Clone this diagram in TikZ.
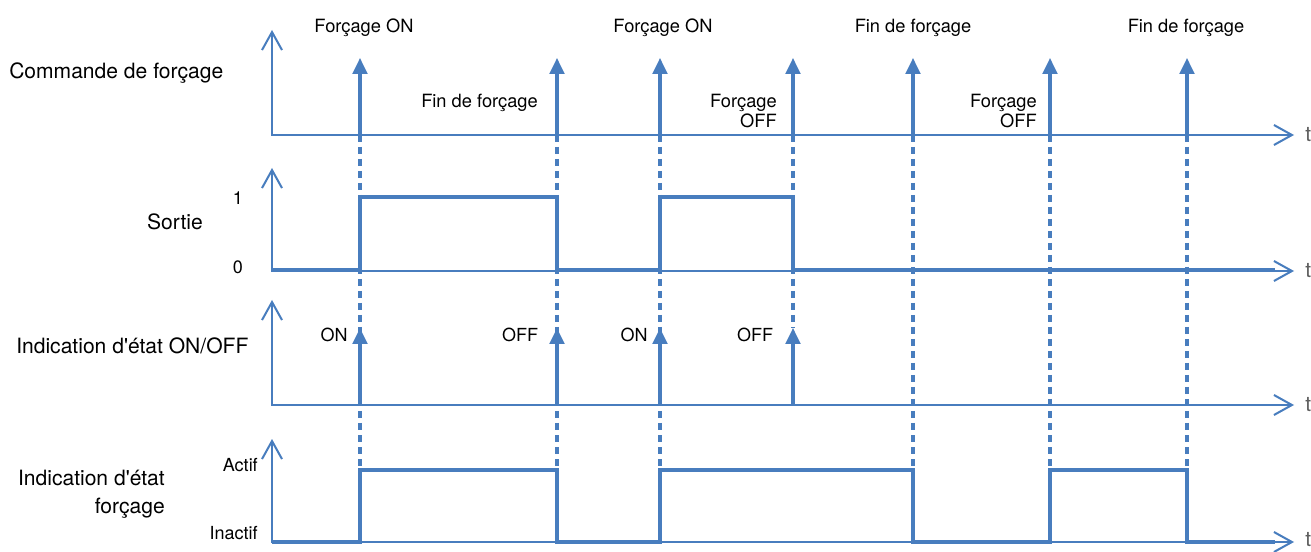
\documentclass[tikz,border=0pt]{standalone}
\usepackage{fontspec}
\setmainfont{TeX Gyre Heros}
\newfontfamily\rawhv{TeX Gyre Heros}
\usetikzlibrary{arrows.meta}
\definecolor{sigblue}{RGB}{72,125,190}
\definecolor{tgray}{RGB}{95,95,95}
\newcommand{\apos}{{\rawhv '}}
\begin{document}
\begin{tikzpicture}[x=0.75pt,y=-0.75pt,
  axis/.style={sigblue, line width=1.5pt, line join=miter,
    {Straight Barb[length=13.5pt,width=15pt,line width=1.5pt]}-{Straight Barb[length=13.5pt,width=15pt,line width=1.5pt]}},
  signal/.style={sigblue, line width=2.5pt, line join=miter},
  pulse/.style={sigblue, line width=2.3pt, -{Triangle[length=12pt,width=11pt]}},
  guide/.style={sigblue, line width=2.6pt, dash pattern=on 5.5pt off 3.5pt},
  lbl/.style={font=\fontsize{15.8}{21}\selectfont, inner sep=0pt},
  toplbl/.style={font=\fontsize{13.7}{15.5}\selectfont, inner sep=0pt},
  small/.style={font=\fontsize{13.5}{16}\selectfont, inner sep=0pt},
  tlbl/.style={font=\fontsize{15.8}{21}\selectfont, inner sep=0pt, text=tgray, anchor=west}]
\useasboundingbox (0,0) rectangle (1311,552);
\fill[white] (0,0) rectangle (1311,552);

% dashed guides
\foreach \x in {360,557,660,913,1050,1187}
  \draw[guide] (\x,135) -- (\x,470);
\draw[guide] (793,135) -- (793,328);

% axes
\draw[axis] (272,30) -- (272,135) -- (1294,135);
\draw[axis] (272,168) -- (272,271) -- (1294,271);
\draw[axis] (272,300) -- (272,405) -- (1294,405);
\draw[axis] (272,439) -- (272,542) -- (1294,542);

% row 1 pulses
\foreach \x in {360,557,660,793,913,1050,1187}
  \draw[pulse] (\x,135) -- (\x,58);

% row 2 signal
\draw[signal] (272,270) -- (360,270) -- (360,197) -- (557,197) -- (557,270)
  -- (660,270) -- (660,197) -- (793,197) -- (793,270) -- (1275,270);

% row 3 pulses
\foreach \x in {360,557,660,793}
  \draw[pulse] (\x,405) -- (\x,328);

% row 4 signal
\draw[signal] (272,542) -- (360,542) -- (360,470) -- (557,470) -- (557,542)
  -- (660,542) -- (660,470) -- (913,470) -- (913,542) -- (1050,542)
  -- (1050,470) -- (1187,470) -- (1187,542) -- (1275,542);

% top labels
\node[toplbl] (fon1) at (364,28) {Forçage ON};
\node[toplbl] (fon2) at (663,28) {Forçage ON};
\node[toplbl] (fin1) at (913,28) {Fin de forçage};
\node[toplbl] (fin2) at (1186,28) {Fin de forçage};
\node[toplbl, anchor=east] (fin0) at (538,103) {Fin de forçage};
\node[toplbl, anchor=east, align=right] (foff1) at (777,111) {Forçage\\OFF};
\node[toplbl, anchor=east, align=right] (foff2) at (1037,111) {Forçage\\OFF};

% left labels
\node[lbl, anchor=west] (cmd) at (9,73) {Commande de forçage};
\node[lbl] (sortie) at (175,222) {Sortie};
\node[small] (one) at (238,198) {1};
\node[small] (zero) at (238,267) {0};
\node[lbl, anchor=west] (ind1) at (16,346) {Indication d\apos état ON/OFF};
\node[lbl, anchor=east, align=right] (ind2) at (165,494) {Indication d\apos état\\forçage};
\node[small, anchor=east] (actif) at (258,465) {Actif};
\node[small, anchor=east] (inactif) at (258,533) {Inactif};

% row 3 labels
\node[small] (on1) at (334,335) {ON};
\node[small] (off1) at (520,335) {OFF};
\node[small] (on2) at (634,335) {ON};
\node[small] (off2) at (755,335) {OFF};

% t labels
\node[tlbl] (t1) at (1305,135) {t};
\node[tlbl] (t2) at (1305,271) {t};
\node[tlbl] (t3) at (1305,405) {t};
\node[tlbl] (t4) at (1305,540) {t};
\end{tikzpicture}
\end{document}
